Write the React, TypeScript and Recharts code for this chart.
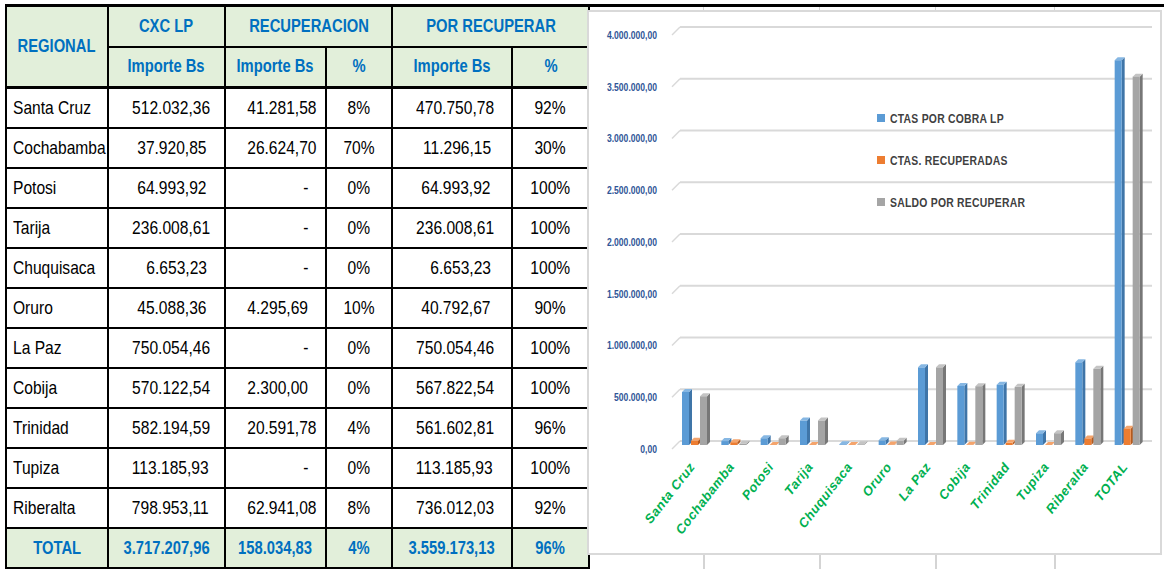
import React from 'react';
import { BarChart, Bar, XAxis, YAxis, CartesianGrid, Legend } from 'recharts';

const regions = ['Santa Cruz', 'Cochabamba', 'Potosi', 'Tarija', 'Chuquisaca', 'Oruro', 'La Paz', 'Cobija', 'Trinidad', 'Tupiza', 'Riberalta'];
const cxcLp = [512032.36, 37920.85, 64993.92, 236008.61, 6653.23, 45088.36, 750054.46, 570122.54, 582194.59, 113185.93, 798953.11];
const recuperado = [41281.58, 26624.7, 0, 0, 0, 4295.69, 0, 2300.0, 20591.78, 0, 62941.08];
const recuperadoPct = [8, 70, 0, 0, 0, 10, 0, 0, 4, 0, 8];
const porRecuperar = [470750.78, 11296.15, 64993.92, 236008.61, 6653.23, 40792.67, 750054.46, 567822.54, 561602.81, 113185.93, 736012.03];
const porRecuperarPct = [92, 30, 100, 100, 100, 90, 100, 100, 96, 100, 92];
const totalLabel = 'TOTAL';
const totals = [3717207.96, 158034.83, 4, 3559173.13, 96];
const yTicks = [0, 500000, 1000000, 1500000, 2000000, 2500000, 3000000, 3500000, 4000000];
const seriesNames = ['CTAS POR COBRA LP', 'CTAS. RECUPERADAS', 'SALDO POR RECUPERAR'];

const chartData = [...regions, totalLabel].map((name, i) => ({
  name,
  cxc: i < regions.length ? cxcLp[i] : totals[0],
  rec: i < regions.length ? recuperado[i] : totals[1],
  saldo: i < regions.length ? porRecuperar[i] : totals[3],
}));

const fmtBs = (v: number) => {
  const [i, d] = v.toFixed(2).split('.');
  return i.replace(/\B(?=(\d{3})+(?!\d))/g, '.') + ',' + d;
};

const SANS = '"Liberation Sans", Arial, sans-serif';
const BLUE_HEAD = '#0070C0';
const HEAD_BG = '#E2EFDA';
const B = '2px solid #000';

const colors = [
  { front: '#5B9BD5', side: '#3F75A8', top: '#86B7E3' },
  { front: '#ED7D31', side: '#B35A1F', top: '#F4A46C' },
  { front: '#A5A5A5', side: '#777777', top: '#C4C4C4' },
];

// narrow look: Liberation Sans squeezed horizontally (no Arial Narrow here)
const N = ({ children, o, k = 0.82 }: { children: React.ReactNode; o: string; k?: number }) => (
  <span style={{ display: 'inline-block', whiteSpace: 'nowrap', transform: `scaleX(${k})`, transformOrigin: o }}>{children}</span>
);

const makeShape = (c: { front: string; side: string; top: string }) => (p: any) => {
  const { x, y, width, height } = p;
  const d = 3;
  if (x == null || y == null) return <g />;
  return (
    <g>
      <polygon points={`${x + width},${y} ${x + width + d},${y - d} ${x + width + d},${y + height - d} ${x + width},${y + height}`} fill={c.side} />
      <polygon points={`${x},${y} ${x + d},${y - d} ${x + width + d},${y - d} ${x + width},${y}`} fill={c.top} />
      <rect x={x} y={y} width={width} height={height} fill={c.front} />
    </g>
  );
};

const GridLine = (p: any) => (
  <line x1={p.x1 + 5} y1={p.y1 - 4} x2={p.x2 + 5} y2={p.y2 - 4} stroke="#D9D9D9" strokeWidth={2} />
);

const YTick = (p: any) => {
  const { y, payload } = p;
  return (
    <g>
      <line x1={91} y1={y - 4} x2={83} y2={y + 4} stroke="#D9D9D9" strokeWidth={1.5} />
      <text transform={`translate(68, ${y + 4}) scale(0.78, 1)`} dy="0.35em" textAnchor="end" fill="#2F5597" fontSize={11} fontWeight="bold" fontFamily={SANS}>
        {fmtBs(payload.value)}
      </text>
    </g>
  );
};

const XTick = (p: any) => {
  const { x, y, payload } = p;
  const tx = x + 1;
  const ty = y + 14;
  return (
    <text x={tx} y={ty} textAnchor="end" transform={`rotate(-52, ${tx}, ${ty})`} fill="#00B050" fontSize={13} fontWeight="bold" fontStyle="italic" letterSpacing={0.5} fontFamily={SANS}>
      {payload.value}
    </text>
  );
};

const LegendBox = () => (
  <div style={{ fontFamily: SANS }}>
    {seriesNames.map((n, i) => (
      <div key={n} style={{ display: 'flex', alignItems: 'center', height: 42, color: '#404040', fontSize: 13, fontWeight: 'bold', letterSpacing: 0.3 }}>
        <span style={{ display: 'inline-block', width: 8, height: 8, background: colors[i].front, marginRight: 5, flex: 'none' }} />
        <N o="left" k={0.8}>{n}</N>
      </div>
    ))}
  </div>
);

const th: React.CSSProperties = { border: B, background: HEAD_BG, color: BLUE_HEAD, fontWeight: 'bold', fontSize: 18, textAlign: 'center', padding: 0, overflow: 'hidden' };
const td: React.CSSProperties = { border: B, fontSize: 19, padding: '0 17px 0 6px', height: 38, color: '#000', overflow: 'hidden' };
const tot: React.CSSProperties = { ...th, height: 38 };
const hb: React.CSSProperties = { ...th, borderBottom: '3px solid #000' };

const DataTable = () => (
  <table style={{ position: 'absolute', left: 5, top: 4, borderCollapse: 'collapse', tableLayout: 'fixed', width: 583, fontFamily: SANS, borderTop: '3px solid #000' }}>
    <colgroup>
      <col style={{ width: 102 }} />
      <col style={{ width: 117 }} />
      <col style={{ width: 101 }} />
      <col style={{ width: 66 }} />
      <col style={{ width: 120 }} />
      <col style={{ width: 77 }} />
    </colgroup>
    <tbody>
      <tr style={{ height: 41 }}>
        <td rowSpan={2} style={hb}><N o="center">REGIONAL</N></td>
        <td style={th}><N o="center">CXC LP</N></td>
        <td colSpan={2} style={th}><N o="center">RECUPERACION</N></td>
        <td colSpan={2} style={th}><N o="center">POR RECUPERAR</N></td>
      </tr>
      <tr style={{ height: 41 }}>
        <td style={hb}><N o="center">Importe Bs</N></td>
        <td style={hb}><N o="center">Importe Bs</N></td>
        <td style={hb}><N o="center">%</N></td>
        <td style={hb}><N o="center">Importe Bs</N></td>
        <td style={hb}><N o="center">%</N></td>
      </tr>
      {regions.map((r, i) => (
        <tr key={r}>
          <td style={{ ...td, padding: '0 0 0 6px' }}><N o="left">{r}</N></td>
          <td style={{ ...td, textAlign: 'right' }}><N o="right">{fmtBs(cxcLp[i])}</N></td>
          <td style={{ ...td, textAlign: 'right' }}><N o="right">{recuperado[i] ? fmtBs(recuperado[i]) : '-'}</N></td>
          <td style={{ ...td, textAlign: 'center', padding: 0 }}><N o="center">{recuperadoPct[i]}%</N></td>
          <td style={{ ...td, textAlign: 'right', paddingRight: 20 }}><N o="right">{fmtBs(porRecuperar[i])}</N></td>
          <td style={{ ...td, textAlign: 'center', padding: 0 }}><N o="center">{porRecuperarPct[i]}%</N></td>
        </tr>
      ))}
      <tr>
        <td style={tot}><N o="center">{totalLabel}</N></td>
        <td style={tot}><N o="center">{fmtBs(totals[0])}</N></td>
        <td style={tot}><N o="center">{fmtBs(totals[1])}</N></td>
        <td style={tot}><N o="center">{totals[2]}%</N></td>
        <td style={tot}><N o="center">{fmtBs(totals[3])}</N></td>
        <td style={tot}><N o="center">{totals[4]}%</N></td>
      </tr>
    </tbody>
  </table>
);

export default function App() {
  return (
    <div style={{ position: 'absolute', left: 0, top: 0, width: 1164, height: 569, overflow: 'hidden', background: '#fff' }}>
      <DataTable />
      <div style={{ position: 'absolute', left: 587, top: 4, width: 577, height: 3, background: '#000' }} />
      {[703, 819, 935, 1054].map((gx) => (
        <React.Fragment key={gx}>
          <div style={{ position: 'absolute', left: gx, top: 7, width: 1, height: 4, background: '#D4D4D4' }} />
          <div style={{ position: 'absolute', left: gx, top: 555, width: 2, height: 14, background: '#D4D4D4' }} />
        </React.Fragment>
      ))}
      <div style={{ position: 'absolute', left: 587, top: 10, width: 571, height: 541, border: '2px solid #D9D9D9', background: '#fff' }}>
        <BarChart width={571} height={541} data={chartData} margin={{ top: 19, right: 13, left: 0, bottom: 0 }} barSize={7} barGap={2}>
          <CartesianGrid vertical={false} horizontal={GridLine} />
          <XAxis dataKey="name" height={108} interval={0} tickLine={false} axisLine={false} tick={<XTick />} />
          <YAxis width={86} domain={[0, 4000000]} ticks={yTicks} tickLine={false} axisLine={false} tick={<YTick />} />
          <Legend layout="vertical" align="center" verticalAlign="middle" content={<LegendBox />} wrapperStyle={{ left: 288, top: 85, width: 220 }} />
          <Bar dataKey="cxc" name={seriesNames[0]} fill={colors[0].front} shape={makeShape(colors[0])} isAnimationActive={false} />
          <Bar dataKey="rec" name={seriesNames[1]} fill={colors[1].front} shape={makeShape(colors[1])} isAnimationActive={false} />
          <Bar dataKey="saldo" name={seriesNames[2]} fill={colors[2].front} shape={makeShape(colors[2])} isAnimationActive={false} />
        </BarChart>
      </div>
    </div>
  );
}
